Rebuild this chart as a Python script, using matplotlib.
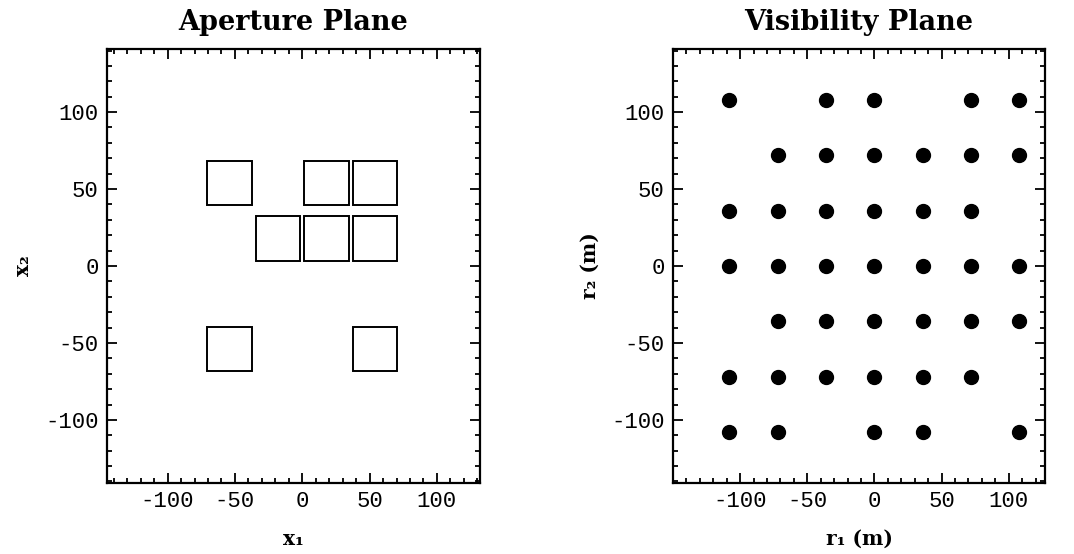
import matplotlib
matplotlib.use("Agg")
import matplotlib.pyplot as plt
from matplotlib.patches import Rectangle
from matplotlib.ticker import MultipleLocator

# --- Aperture plane: telescope centres (m) and square size ------------------ #
AP_X = [-54, 18, 54, -18, 18, 54, -54, 54]
AP_Y = [54, 54, 54, 18, 18, 18, -54, -54]
AP_W = 33.0
AP_H = 29.0

# --- Visibility plane: baseline points (m) ---------------------------------- #
VIS_X = [-108, -36, 0, 72, 108,
         -72, -36, 0, 36, 72, 108,
         -108, -72, -36, 0, 36, 72,
         -108, -72, -36, 0, 36, 72, 108,
         -72, -36, 0, 36, 72, 108,
         -108, -72, -36, 0, 36, 72,
         -108, -72, 0, 36, 108]
VIS_Y = [108] * 5 + [72] * 6 + [36] * 6 + [0] * 7 + [-36] * 6 + [-72] * 6 + [-108] * 5

TICKS = [-100, -50, 0, 50, 100]
TICK_LABELS = ["-100", "-50", "0", "50", "100"]

TITLE_FONT = dict(family="DejaVu Serif", fontweight="bold", fontsize=19.5)
LABEL_FONT = dict(family="DejaVu Serif", fontweight="bold", fontsize=14.5)
TICK_FONT = "Liberation Mono"

fig = plt.figure(figsize=(10.74, 5.54), dpi=100)
W, H = 1074, 554


def frame(box_px, xlim, ylim):
    x0, y0, x1, y1 = box_px
    ax = fig.add_axes([x0 / W, 1 - y1 / H, (x1 - x0) / W, (y1 - y0) / H])
    ax.set_xlim(*xlim)
    ax.set_ylim(*ylim)
    ax.xaxis.set_minor_locator(MultipleLocator(10))
    ax.yaxis.set_minor_locator(MultipleLocator(10))
    ax.set_xticks(TICKS, TICK_LABELS)
    ax.set_yticks(TICKS, TICK_LABELS)
    ax.tick_params(which="both", direction="in", top=True, right=True, color="black", width=1.3)
    ax.tick_params(which="major", length=7, labelsize=16, pad=6)
    ax.tick_params(which="minor", length=3.5)
    for lab in ax.get_xticklabels() + ax.get_yticklabels():
        lab.set_family(TICK_FONT)
    for sp in ax.spines.values():
        sp.set_linewidth(1.6)
    return ax


# --- Left: aperture plane --------------------------------------------------- #
ax = frame((107, 49, 480, 483), (-145, 132), (-141, 141))
for cx, cy in zip(AP_X, AP_Y):
    ax.add_patch(Rectangle((cx - AP_W / 2, cy - AP_H / 2), AP_W, AP_H,
                           fill=False, edgecolor="black", lw=1.4))
ax.set_title("Aperture Plane", pad=14, **TITLE_FONT)
ax.set_xlabel("x\u2081", labelpad=12, **LABEL_FONT)
ax.set_ylabel("x\u2082", labelpad=9, **LABEL_FONT)

# --- Right: visibility plane ------------------------------------------------ #
ax = frame((673, 49, 1045, 483), (-150, 127), (-141, 141))
ax.plot(VIS_X, VIS_Y, "o", color="black", ms=10, mec="black")
ax.set_title("Visibility Plane", pad=14, **TITLE_FONT)
ax.set_xlabel("r\u2081 (m)", labelpad=12, **LABEL_FONT)
ax.set_ylabel("r\u2082 (m)", labelpad=8, **LABEL_FONT)

fig.savefig("out.png", dpi=100)
